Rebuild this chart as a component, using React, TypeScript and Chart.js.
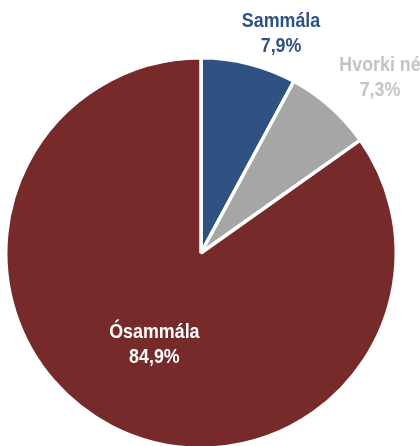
import React, { useEffect, useRef } from "react";
import { Chart, registerables } from "chart.js";

Chart.register(...registerables);

const categories = ["Sammála", "Hvorki né", "Ósammála"];
const values = [7.9, 7.3, 84.9];
const valueLabels = ["7,9%", "7,3%", "84,9%"];
const sliceColors = ["#2F5283", "#A6A6A6", "#772A2A"];
const labelColors = ["#2F5283", "#C4C4C4", "#FFFFFF"];

const labelPlugin = {
  id: "sliceLabels",
  afterDatasetsDraw(chart: any, _args: any, opts: any) {
    const ctx = chart.ctx;
    const meta = chart.getDatasetMeta(0);
    meta.data.forEach((arc: any, i: number) => {
      const p = arc.getProps(["x", "y", "startAngle", "endAngle", "outerRadius"], true);
      const mid = (p.startAngle + p.endAngle) / 2;
      const f = opts.factors[i];
      const n = opts.nudges[i];
      const cx = p.x + Math.cos(mid) * p.outerRadius * f + n[0];
      const cy = p.y + Math.sin(mid) * p.outerRadius * f + n[1];
      ctx.save();
      ctx.translate(cx, cy);
      ctx.scale(0.85, 1);
      ctx.font = "bold 21px 'Liberation Sans', Arial, sans-serif";
      ctx.textAlign = "center";
      ctx.textBaseline = "alphabetic";
      ctx.fillStyle = labelColors[i];
      ctx.fillText(categories[i], 0, -5);
      ctx.fillText(valueLabels[i], 0, 20);
      ctx.restore();
    });
  },
};

export default function App() {
  const ref = useRef<HTMLCanvasElement>(null);
  useEffect(() => {
    if (!ref.current) return;
    const chart = new Chart(ref.current, {
      type: "pie",
      data: {
        labels: categories,
        datasets: [
          {
            data: values,
            backgroundColor: sliceColors,
            borderColor: "#FFFFFF",
            borderWidth: 3.5,
          },
        ],
      },
      options: {
        responsive: false,
        animation: false,
        layout: { padding: { left: 4, top: 56, right: 22, bottom: 10 } },
        plugins: {
          legend: { display: false },
          tooltip: { enabled: false },
          sliceLabels: {
            factors: [1.17, 1.29, 0.52],
            nudges: [[24, 0], [12, 12], [0, 0]],
          },
        } as any,
      },
      plugins: [labelPlugin],
    });
    return () => chart.destroy();
  }, []);
  return (
    <div
      style={{
        position: "absolute",
        left: 0,
        top: 0,
        width: 420,
        height: 446,
        overflow: "hidden",
        background: "#FFFFFF",
      }}
    >
      <canvas ref={ref} width={420} height={460} style={{ width: 420, height: 460, display: "block" }} />
    </div>
  );
}
